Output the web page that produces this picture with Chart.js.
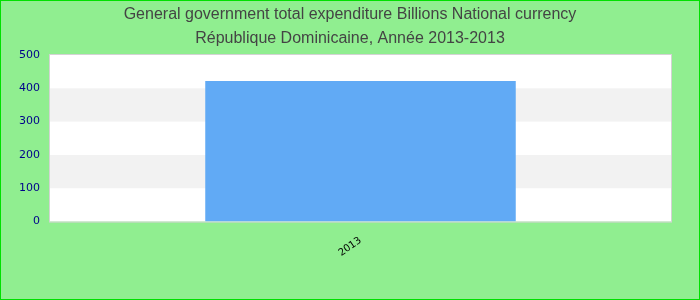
<html>
<head>
<meta charset="utf-8">
<script src="https://cdn.jsdelivr.net/npm/chart.js@4/dist/chart.umd.min.js"></script>
<style>
body { margin: 0; }
#wrap { width: 698px; height: 298px; border: 1px solid #00e000; background: #90ee90; }
</style>
</head>
<body>
<div id="wrap"><canvas id="expenditure" width="698" height="298"></canvas></div>

<script>
var years = ['2013'];
var values = [422];
var titleLines = ['General government total expenditure Billions National currency', 'République Dominicaine, Année 2013-2013'];

// white plot area with grey bands every other 100
var bands = {
	id: 'bands',
	beforeDraw: function(chart) {
		var ctx = chart.ctx, a = chart.chartArea, y = chart.scales.y;
		ctx.save();
		ctx.fillStyle = '#ffffff';
		ctx.fillRect(a.left, a.top, a.right - a.left, a.bottom - a.top);
		ctx.fillStyle = '#f2f2f2';
		for (var v = 100; v < 500; v += 200) {
			var top = y.getPixelForValue(v + 100), bot = y.getPixelForValue(v);
			ctx.fillRect(a.left, top, a.right - a.left, bot - top);
		}
		ctx.strokeStyle = '#d3d3d3';
		ctx.lineWidth = 1;
		ctx.strokeRect(a.left - 0.5, a.top - 0.5, a.right - a.left + 1, a.bottom - a.top + 1);
		ctx.restore();
	}
};

new Chart(document.getElementById('expenditure'), {
	type: 'bar',
	data: {
		labels: years,
		datasets: [{
			label: 'Expenditure',
			data: values,
			backgroundColor: '#61aaf5',
			barPercentage: 1,
			categoryPercentage: 0.5
		}]
	},
	options: {
		responsive: false,
		animation: false,
		layout: { padding: { left: 3, right: 3, top: 0, bottom: 27 } },
		plugins: {
			legend: { display: false },
			tooltip: { enabled: false },
			title: {
				display: true,
				text: titleLines,
				color: '#444444',
				font: { family: 'Liberation Sans, Arial', size: 16, weight: 'normal', lineHeight: 1.5 },
				padding: { top: 2, bottom: 4 }
			}
		},
		scales: {
			x: {
				grid: { display: false, drawTicks: false },
				border: { display: false },
				ticks: {
					color: '#000000',
					font: { family: 'DejaVu Sans', size: 10 },
					minRotation: 35, maxRotation: 35,
					padding: 13
				}
			},
			y: {
				min: 0, max: 500,
				grid: { display: false, drawTicks: false },
				border: { display: false },
				afterFit: function(scale) { scale.width = 46; },
				ticks: {
					stepSize: 100,
					color: '#00008b',
					font: { family: 'DejaVu Sans', size: 11 },
					padding: 10
				}
			},
			// empty right axis, only keeps the plot off the right edge
			y2: {
				position: 'right',
				grid: { display: false, drawTicks: false },
				border: { display: false },
				ticks: { display: false },
				afterFit: function(scale) { scale.width = 25; }
			}
		}
	},
	plugins: [bands]
});
</script>
</body>
</html>
